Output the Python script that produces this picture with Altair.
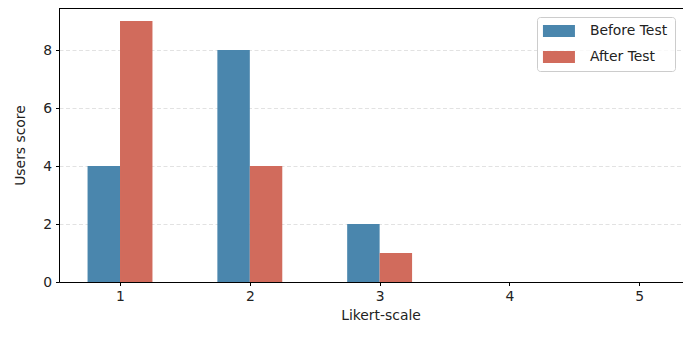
import altair as alt
import pandas as pd

likert = [1, 2, 3, 4, 5]
before_test = [4, 8, 2, 0, 0]
after_test = [9, 4, 1, 0, 0]
groups = ["Before Test", "After Test"]
colors = ["#4A86AD", "#D16B5C"]

rows = []
for i, k in enumerate(likert):
    rows.append({"likert": k, "group": groups[0], "score": before_test[i], "gi": 0})
    rows.append({"likert": k, "group": groups[1], "score": after_test[i], "gi": 1})
df = pd.DataFrame(rows)

W, H = 624, 274
FONT = "DejaVu Sans"
FS = 13.9

xscale = alt.Scale(domain=[0.53, 5.337], nice=False, zero=False, padding=0)
yscale = alt.Scale(domain=[0, 9.45], nice=False, padding=0)

bars = alt.Chart(df).transform_calculate(
    x0="datum.likert - 0.25 + 0.25 * datum.gi",
    x1="datum.likert + 0.25 * datum.gi",
).mark_bar(strokeWidth=0, orient="vertical").encode(
    x=alt.X("x0:Q", scale=xscale,
            axis=alt.Axis(values=likert, format="d", title="Likert-scale",
                          grid=False, domainColor="black", tickColor="black",
                          tickSize=3.5, labelPadding=4, labelFont=FONT, labelFontSize=FS,
                          labelColor="#222", titleFont=FONT, titleFontSize=FS,
                          titleFontWeight="normal", titleColor="#222",
                          titleX=321.5, titleY=37, titleBaseline="alphabetic",
                          labelFlush=False)),
    x2="x1:Q",
    y=alt.Y("score:Q", scale=yscale,
            axis=alt.Axis(values=[0, 2, 4, 6, 8], title="Users score",
                          grid=True, gridColor="#dadada", gridDash=[4, 2.5], gridWidth=0.8,
                          domainColor="black", tickColor="black", tickSize=3.5,
                          labelPadding=4, labelFont=FONT, labelFontSize=FS, labelColor="#222",
                          titleFont=FONT, titleFontSize=FS, titleFontWeight="normal",
                          titleColor="#222", titleX=-39, titleY=137, titleAngle=-90,
                          titleBaseline="middle", titleAlign="center")),
    y2=alt.datum(0),
    color=alt.Color("group:N", scale=alt.Scale(domain=groups, range=colors),
                    legend=alt.Legend(title=None, orient="none", legendX=478, legendY=9,
                                      direction="vertical",
                                      symbolType="M-2.667,-1L2.667,-1L2.667,1L-2.667,1Z",
                                      symbolSize=144, symbolStrokeWidth=0,
                                      symbolOffset=8, labelOffset=24,
                                      labelFont=FONT, labelFontSize=FS, labelColor="#222",
                                      rowPadding=11, padding=7,
                                      strokeColor="#cccccc", fillColor="rgba(255,255,255,0.8)",
                                      cornerRadius=3)),
)

top_spine = alt.Chart(df).mark_rule(color="black", strokeWidth=1).encode(
    x=alt.value(0), x2=alt.value(W), y=alt.value(0)
)

chart = alt.layer(bars, top_spine).properties(
    width=W, height=H,
    autosize=alt.AutoSizeParams(type="none"),
    padding={"left": 51, "top": 0, "right": 0, "bottom": 39},
).configure_view(stroke=None).configure(background="white")

chart.save("out.html", embed_options={"renderer": "svg", "actions": False})
